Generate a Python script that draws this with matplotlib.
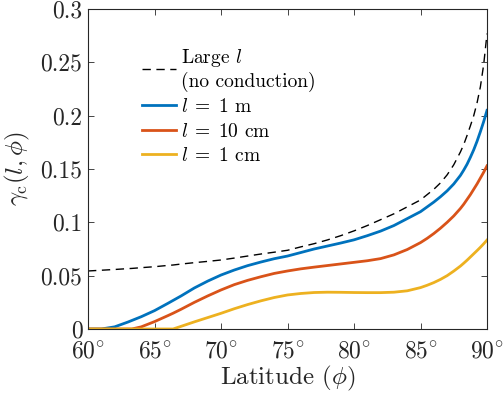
import numpy as np
import matplotlib
matplotlib.use("Agg")
import matplotlib.pyplot as plt

plt.rcParams['font.family'] = 'serif'
plt.rcParams['font.serif'] = ['cmr10']
plt.rcParams['mathtext.fontset'] = 'cm'
plt.rcParams['axes.unicode_minus'] = False
plt.rcParams['axes.formatter.use_mathtext'] = True

# latitude grid (deg)
lat = [60, 61, 62, 63, 63.3, 64, 65, 66, 66.4, 67, 68, 69, 70, 71, 72, 73, 74, 75,
       76, 77, 78, 79, 80, 81, 82, 83, 84, 85, 85.5, 86, 86.5, 87, 87.5, 88,
       88.25, 88.5, 88.75, 89, 89.25, 89.5, 89.75, 90]

# gamma_c for large l (no conduction)
gam_large = [0.0544, 0.0551, 0.0558, 0.0566, 0.0568, 0.0575, 0.0584, 0.0596, 0.0600,
             0.0609, 0.0622, 0.0634, 0.0647, 0.0665, 0.0684, 0.0703, 0.0720, 0.0738,
             0.0770, 0.0800, 0.0835, 0.0875, 0.0920, 0.0970, 0.1025, 0.1080, 0.1145,
             0.1210, 0.1260, 0.1310, 0.1370, 0.1445, 0.1540, 0.1660, 0.1730, 0.1815,
             0.1905, 0.2000, 0.2120, 0.2270, 0.2480, 0.2770]

# l = 1 m
gam_1m = [0.0, 0.0, 0.0020, 0.0065, 0.0080, 0.0115, 0.0172, 0.0240, 0.0268, 0.0310,
          0.0385, 0.0449, 0.0506, 0.0553, 0.0594, 0.0628, 0.0659, 0.0684, 0.0717,
          0.0750, 0.0778, 0.0806, 0.0836, 0.0875, 0.0918, 0.0970, 0.1035, 0.1100,
          0.1145, 0.1190, 0.1240, 0.1295, 0.1360, 0.1440, 0.1490, 0.1545, 0.1610,
          0.1680, 0.1760, 0.1850, 0.1945, 0.2050]

# l = 10 cm
gam_10cm = [0.0, 0.0, 0.0, 0.0, 0.0, 0.0020, 0.0069, 0.0125, 0.0148, 0.0185, 0.0250,
            0.0310, 0.0366, 0.0416, 0.0456, 0.0490, 0.0521, 0.0544, 0.0564, 0.0580,
            0.0595, 0.0610, 0.0625, 0.0640, 0.0660, 0.0695, 0.0745, 0.0810, 0.0850,
            0.0895, 0.0945, 0.1000, 0.1060, 0.1130, 0.1170, 0.1215, 0.1260, 0.1310,
            0.1360, 0.1415, 0.1470, 0.1530]

# l = 1 cm
gam_1cm = [0.0, 0.0, 0.0, 0.0, 0.0, 0.0, 0.0, 0.0, 0.0, 0.0025, 0.0067, 0.0107,
           0.0147, 0.0190, 0.0229, 0.0264, 0.0295, 0.0319, 0.0333, 0.0342, 0.0345,
           0.0344, 0.0342, 0.0341, 0.0341, 0.0345, 0.0358, 0.0388, 0.0410, 0.0435,
           0.0465, 0.0500, 0.0543, 0.0590, 0.0617, 0.0645, 0.0675, 0.0705, 0.0735,
           0.0766, 0.0799, 0.0834]

xticks = [60, 65, 70, 75, 80, 85, 90]
xticklabels = [r'$%d^{\circ}$' % v for v in xticks]
yticks = [0, 0.05, 0.1, 0.15, 0.2, 0.25, 0.3]
yticklabels = ['0', '0.05', '0.1', '0.15', '0.2', '0.25', '0.3']

fig = plt.figure(figsize=(5.04, 3.94), dpi=100)
ax = fig.add_axes([0.1746, 0.165, 0.7917, 0.812])

ax.plot(lat, gam_large, color='k', lw=1.0, dashes=(6, 4),
        label='Large $l$\n(no conduction)')
ax.plot(lat, gam_1m, color='#0072BD', lw=2.0, label=r'$l\;=\;1$ m')
ax.plot(lat, gam_10cm, color='#D95319', lw=2.0, label=r'$l\;=\;10$ cm')
ax.plot(lat, gam_1cm, color='#EDB120', lw=2.0, label=r'$l\;=\;1$ cm')

ax.set_xlim(60, 90)
ax.set_ylim(0, 0.3)
ax.set_xticks(xticks)
ax.set_xticklabels(xticklabels)
ax.set_yticks(yticks)
ax.set_yticklabels(yticklabels)
ax.tick_params(direction='in', top=True, right=True, length=4, width=0.6,
               labelsize=17, colors='#262626')
ax.tick_params(axis='x', pad=8)
ax.tick_params(axis='y', pad=4)
for sp in ax.spines.values():
    sp.set_linewidth(0.8)
    sp.set_color('#262626')

ax.set_xlabel(r'Latitude $(\phi)$', fontsize=18, color='#262626', labelpad=1)
ax.set_ylabel(r'$\gamma_{\rm c}(l,\phi)$', fontsize=18, color='#262626', labelpad=6)

ax.legend(loc='upper left', bbox_to_anchor=(0.1, 0.925), frameon=False, fontsize=14,
          handlelength=1.75, handletextpad=0.3, labelspacing=0.33, borderpad=0.2)

fig.savefig('out.png', dpi=100)
